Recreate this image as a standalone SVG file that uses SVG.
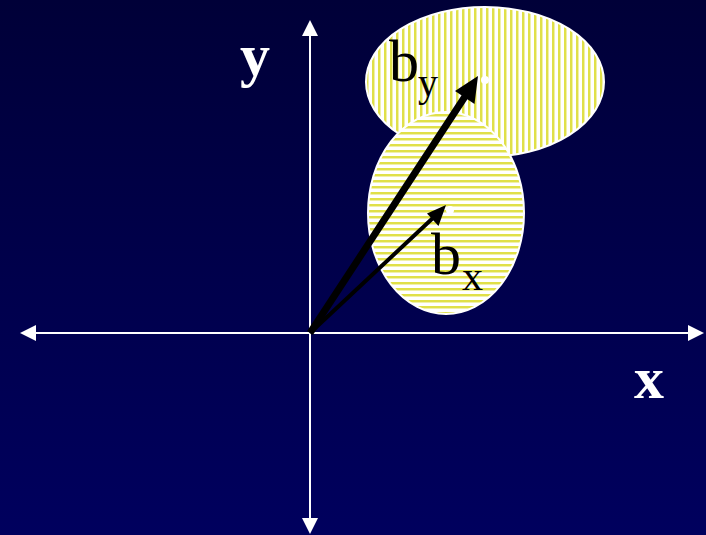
<svg xmlns="http://www.w3.org/2000/svg" width="706" height="535" viewBox="0 0 706 535">
<defs>
<linearGradient id="bg" x1="0" y1="0" x2="0" y2="1">
<stop offset="0" stop-color="#000038"/>
<stop offset="1" stop-color="#00005e"/>
</linearGradient>
<pattern id="vstripe" width="6" height="6" patternUnits="userSpaceOnUse">
<rect width="6" height="6" fill="#ffffff"/>
<rect x="0" width="2" height="6" fill="#e0e048"/>
<rect x="2" width="1" height="6" fill="#f0f0a8"/>
</pattern>
<pattern id="hstripe" width="6" height="6" patternUnits="userSpaceOnUse">
<rect width="6" height="6" fill="#ffffff"/>
<rect y="0" width="6" height="2" fill="#e0e048"/>
<rect y="2" width="6" height="1" fill="#f0f0a8"/>
</pattern>
</defs>
<style>
.axis{stroke:#ffffff;stroke-width:2;fill:none}
.ax{font-family:"Liberation Serif",serif;font-weight:bold;font-size:60px;fill:#ffffff}
.lb{font-family:"Liberation Serif",serif;fill:#000000}
.vec{stroke:#000000;fill:none}
</style>
<rect width="706" height="535" fill="url(#bg)"/>
<g id="region-by">
<ellipse cx="485" cy="82" rx="119" ry="75" fill="url(#vstripe)" stroke="#ffffff" stroke-width="2"/>
</g>
<g id="region-bx">
<ellipse cx="446" cy="213" rx="78" ry="101" fill="url(#hstripe)" stroke="#ffffff" stroke-width="2"/>
</g>
<g id="connectors">
<line class="axis" x1="36" y1="333" x2="688" y2="333"/>
<path d="M20,333 L36,325 L36,341 z" fill="#ffffff"/>
<path d="M704,333 L688,325 L688,341 z" fill="#ffffff"/>
<line class="axis" x1="310" y1="36" x2="310" y2="518"/>
<path d="M310,20 L302,36 L318,36 z" fill="#ffffff"/>
<path d="M310,534 L302,518 L318,518 z" fill="#ffffff"/>
<line class="vec" x1="310" y1="333" x2="466" y2="95" stroke-width="7"/>
<path d="M478,76 L474.5,104 L455,91 z" fill="#000000"/>
<line class="vec" x1="310" y1="333" x2="434" y2="217" stroke-width="4"/>
<path d="M446,205 L438.5,226 L427,213.5 z" fill="#000000"/>
<circle cx="485" cy="80" r="4" fill="#ffffff"/>
<circle cx="450" cy="210" r="4" fill="#ffffff"/>
</g>
<g id="label-y"><text class="ax" x="240" y="75">y</text></g>
<g id="label-x"><text class="ax" x="634" y="398">x</text></g>
<g id="label-by">
<text class="lb" x="389" y="81" font-size="60">b</text>
<text class="lb" x="418" y="96" font-size="40">y</text>
</g>
<g id="label-bx">
<text class="lb" x="431" y="274" font-size="60">b</text>
<text class="lb" x="462" y="290" font-size="42">x</text>
</g>
</svg>
